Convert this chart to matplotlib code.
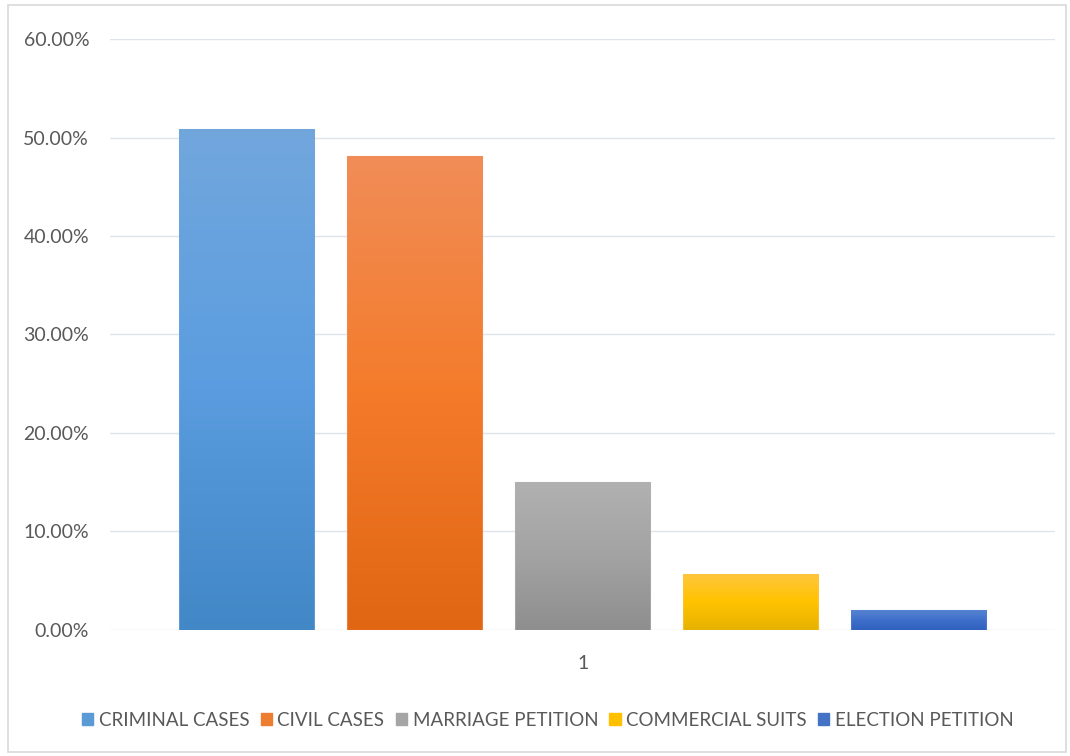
import numpy as np
import matplotlib
matplotlib.use("Agg")
import matplotlib.pyplot as plt
from matplotlib.patches import Rectangle
from matplotlib.colors import LinearSegmentedColormap
from matplotlib.ticker import FuncFormatter

plt.rcParams["font.family"] = ["Lato", "DejaVu Sans"]

# data
categories = ["CRIMINAL CASES", "CIVIL CASES", "MARRIAGE PETITION",
              "COMMERCIAL SUITS", "ELECTION PETITION"]
values = [50.9, 48.1, 15.0, 5.7, 2.0]
group_label = ["1"]

# gradient colours (top, middle, bottom)
grads = [
    ["#72a7dd", "#5b9de0", "#4287c6"],
    ["#f18d58", "#f47b2a", "#e06613"],
    ["#b1b1b1", "#a3a3a3", "#8e8e8e"],
    ["#ffc63f", "#ffc300", "#e6b200"],
    ["#5683d1", "#3f6fcb", "#2f61be"],
]
legend_cols = ["#5b9bd5", "#ed7d31", "#a5a5a5", "#ffc000", "#4472c4"]

fig = plt.figure(figsize=(10.7, 7.56), dpi=100)
ax = fig.add_axes([0.1028, 0.1667, 0.8832, 0.7817])

width = 0.804
offsets = np.arange(len(values)) - (len(values) - 1) / 2

for i, (v, off) in enumerate(zip(values, offsets)):
    bar = ax.bar(off, v, width=width, color=legend_cols[i],
                 edgecolor="white", linewidth=0.8, zorder=3,
                 label=categories[i])[0]
    # bottom -> top
    cmap = LinearSegmentedColormap.from_list("g%d" % i, grads[i][::-1])
    grad = np.linspace(0, 1, 256).reshape(-1, 1)
    im = ax.imshow(grad, cmap=cmap, aspect="auto", zorder=3.5,
                   extent=[off - width / 2, off + width / 2, 0, v],
                   origin="lower")
    im.set_clip_path(bar)
    ax.add_patch(Rectangle((off - width / 2, 0), width, v, fill=False,
                           edgecolor=grads[i][0], linewidth=0.8,
                           alpha=0.6, zorder=4))

ax.set_xlim(-2.815, 2.81)
ax.set_ylim(0, 60)
ax.set_yticks(np.arange(0, 61, 10))
ax.yaxis.set_major_formatter(FuncFormatter(lambda y, p: "%.2f%%" % y))
ax.set_xticks([0])
ax.set_xticklabels(group_label)
ax.tick_params(axis="both", length=0, labelsize=14, colors="#595959")
ax.tick_params(axis="y", pad=15)
ax.tick_params(axis="x", pad=18)
ax.grid(axis="y", color="#dfe3ea", linewidth=1.0, zorder=0)
for s in ax.spines.values():
    s.set_visible(False)

handles = [Rectangle((0, 0), 1, 1, color=c) for c in legend_cols]
fig.legend(handles, categories, loc="center", bbox_to_anchor=(0.512, 0.047),
           ncol=5, frameon=False, fontsize=13.5, labelcolor="#595959",
           handlelength=0.6, handleheight=0.6, handletextpad=0.3,
           columnspacing=0.6)

fig.patches.append(Rectangle((8 / 1070, 4 / 756), 1058 / 1070, 747 / 756,
                             transform=fig.transFigure, fill=False,
                             edgecolor="#d9d9d9", linewidth=1.2))

fig.savefig("out.png", dpi=100)
